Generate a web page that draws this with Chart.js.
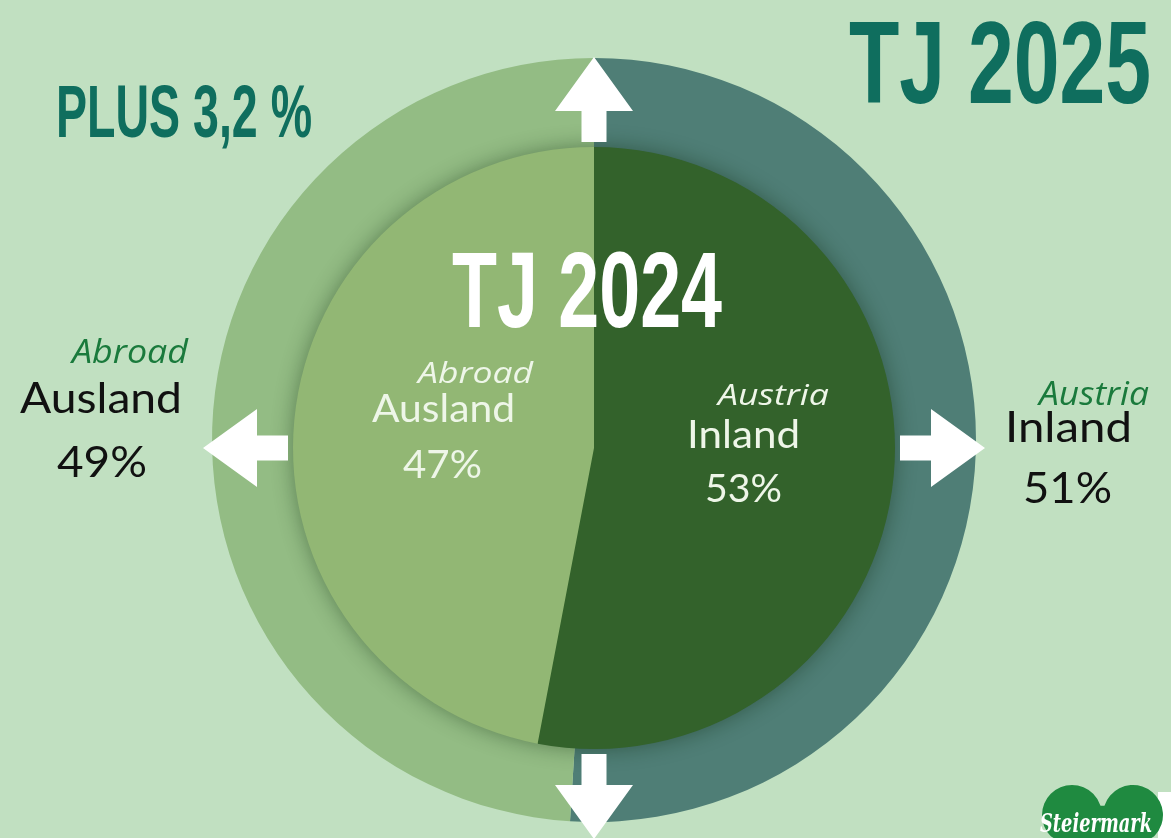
<!DOCTYPE html>
<html>
<head>
<meta charset="utf-8">
<script src="https://cdn.jsdelivr.net/npm/chart.js@4.4.1/dist/chart.umd.min.js"></script>
<style>
    html, body { margin: 0; padding: 0; background: #c1e0c1; }
    #wrap { position: relative; width: 1171px; height: 838px; overflow: hidden; background: #c1e0c1; }
    canvas { position: absolute; left: 0; top: 0; }
</style>
</head>
<body>
<div id="wrap">
    <canvas id="outerChart" width="1171" height="838"></canvas>
    <canvas id="innerChart" width="1171" height="838"></canvas>
</div>
<script>
const categories = ["Inland", "Ausland"];
const categoriesEn = ["Austria", "Abroad"];
const share2024 = [53, 47];
const share2025 = [51, 49];
const yearLabels = ["TJ 2024", "TJ 2025"];
const growthLabel = "PLUS 3,2 %";

const COLORS = {
    bg: "#c1e0c1",
    teal: "#0f6e5e",
    outerIn: "#4f7e76",
    outerAus: "#93bc84",
    innerIn: "#33622b",
    innerAus: "#92b774",
    enGreen: "#1a7a3c",
    light: "#eef6e8",
};

const HEAD = '"Liberation Sans Narrow", "Liberation Sans", sans-serif';
const BODY = 'Lato, "Open Sans", sans-serif';
const ITAL = '"Open Sans", "Noto Sans", sans-serif';

// text squeezed/stretched to the width it has in the picture
function fitText(ctx, text, x, y, width, font, color) {
    ctx.save();
    ctx.font = font;
    ctx.fillStyle = color;
    ctx.textAlign = "left";
    ctx.textBaseline = "alphabetic";
    const w = ctx.measureText(text).width;
    ctx.translate(x, y);
    ctx.scale(width / w, 1);
    ctx.fillText(text, 0, 0);
    ctx.restore();
}

function drawArrow(ctx, cx, cy, angle) {
    ctx.save();
    ctx.translate(cx, cy);
    ctx.rotate(angle);
    ctx.beginPath();
    ctx.moveTo(306, -12.5);
    ctx.lineTo(337, -12.5);
    ctx.lineTo(337, -39);
    ctx.lineTo(391, 0);
    ctx.lineTo(337, 39);
    ctx.lineTo(337, 12.5);
    ctx.lineTo(306, 12.5);
    ctx.closePath();
    ctx.fillStyle = "#ffffff";
    ctx.fill();
    ctx.restore();
}

const pieShadow = {
    id: "pieShadow",
    beforeDatasetsDraw(chart) {
        const arc = chart.getDatasetMeta(0).data[0];
        if (!arc) return;
        const ctx = chart.ctx;
        ctx.save();
        ctx.shadowColor = "rgba(10, 40, 10, 0.45)";
        ctx.shadowBlur = 22;
        ctx.beginPath();
        ctx.arc(arc.x, arc.y, arc.outerRadius - 1, 0, Math.PI * 2);
        ctx.fillStyle = COLORS.innerIn;
        ctx.fill();
        ctx.restore();
    },
};

const overlay = {
    id: "overlay",
    afterDraw(chart) {
        const ctx = chart.ctx;
        const arc = chart.getDatasetMeta(0).data[0];
        const cx = arc.x;
        const cy = arc.y;

        [-Math.PI / 2, 0, Math.PI / 2, Math.PI].forEach((a) => drawArrow(ctx, cx, cy, a));

        // headings
        fitText(ctx, yearLabels[1], 849, 103, 302, "bold 116px " + HEAD, COLORS.teal);
        fitText(ctx, growthLabel, 56, 137, 256, "bold 74px " + HEAD, COLORS.teal);
        fitText(ctx, yearLabels[0], 452, 327, 270, "bold 108px " + HEAD, "#ffffff");

        // outer ring labels (2025)
        fitText(ctx, categoriesEn[1], 72, 363, 116, "italic 32px " + ITAL, COLORS.enGreen);
        fitText(ctx, categories[1], 20, 413, 162, "42px " + BODY, "#111111");
        fitText(ctx, share2025[1] + "%", 57, 477, 90, "42px " + BODY, "#111111");

        fitText(ctx, categoriesEn[0], 1039, 405, 110, "italic 32px " + ITAL, COLORS.enGreen);
        fitText(ctx, categories[0], 1005, 442, 127, "42px " + BODY, "#111111");
        fitText(ctx, share2025[0] + "%", 1023, 503, 89, "42px " + BODY, "#111111");

        // inner pie labels (2024)
        fitText(ctx, categoriesEn[1], 418, 383, 115, "italic 30px " + ITAL, COLORS.light);
        fitText(ctx, categories[1], 372, 422, 143, "38px " + BODY, COLORS.light);
        fitText(ctx, share2024[1] + "%", 403, 478, 79, "38px " + BODY, COLORS.light);

        fitText(ctx, categoriesEn[0], 718, 405, 111, "italic 30px " + ITAL, COLORS.light);
        fitText(ctx, categories[0], 687, 448, 113, "38px " + BODY, COLORS.light);
        fitText(ctx, share2024[0] + "%", 705, 502, 77, "38px " + BODY, COLORS.light);

        // Steiermark heart logo
        ctx.save();
        ctx.fillStyle = "#ffffff";
        ctx.fillRect(1158, 792, 13, 46);
        ctx.fillStyle = "#1f8a40";
        ctx.beginPath();
        ctx.arc(1072, 815, 30, Math.PI * 0.75, Math.PI * 1.9);
        ctx.arc(1133, 815, 30, Math.PI * 1.1, Math.PI * 0.25);
        ctx.lineTo(1103, 870);
        ctx.closePath();
        ctx.fill();
        ctx.restore();
        fitText(ctx, "Steiermark", 1040, 832, 112, "italic bold 26px \"DejaVu Serif\", serif", "#ffffff");
    },
};

const baseOptions = {
    responsive: false,
    devicePixelRatio: 1,
    animation: false,
    events: [],
    plugins: {
        legend: { display: false },
        tooltip: { enabled: false },
    },
};

// TJ 2025 outer ring
new Chart(document.getElementById("outerChart"), {
    type: "doughnut",
    data: {
        labels: categories,
        datasets: [
            {
                data: share2025,
                backgroundColor: [COLORS.outerIn, COLORS.outerAus],
                borderWidth: 0,
            },
        ],
    },
    options: {
        ...baseOptions,
        cutout: "76%",
        layout: { padding: { left: 212, right: 195, top: 58, bottom: 16 } },
    },
});

// TJ 2024 inner pie
new Chart(document.getElementById("innerChart"), {
    type: "pie",
    data: {
        labels: categories,
        datasets: [
            {
                data: share2024,
                backgroundColor: [COLORS.innerIn, COLORS.innerAus],
                borderWidth: 0,
            },
        ],
    },
    options: {
        ...baseOptions,
        layout: { padding: { left: 293, right: 276, top: 147, bottom: 89 } },
    },
    plugins: [pieShadow, overlay],
});
</script>
</body>
</html>
